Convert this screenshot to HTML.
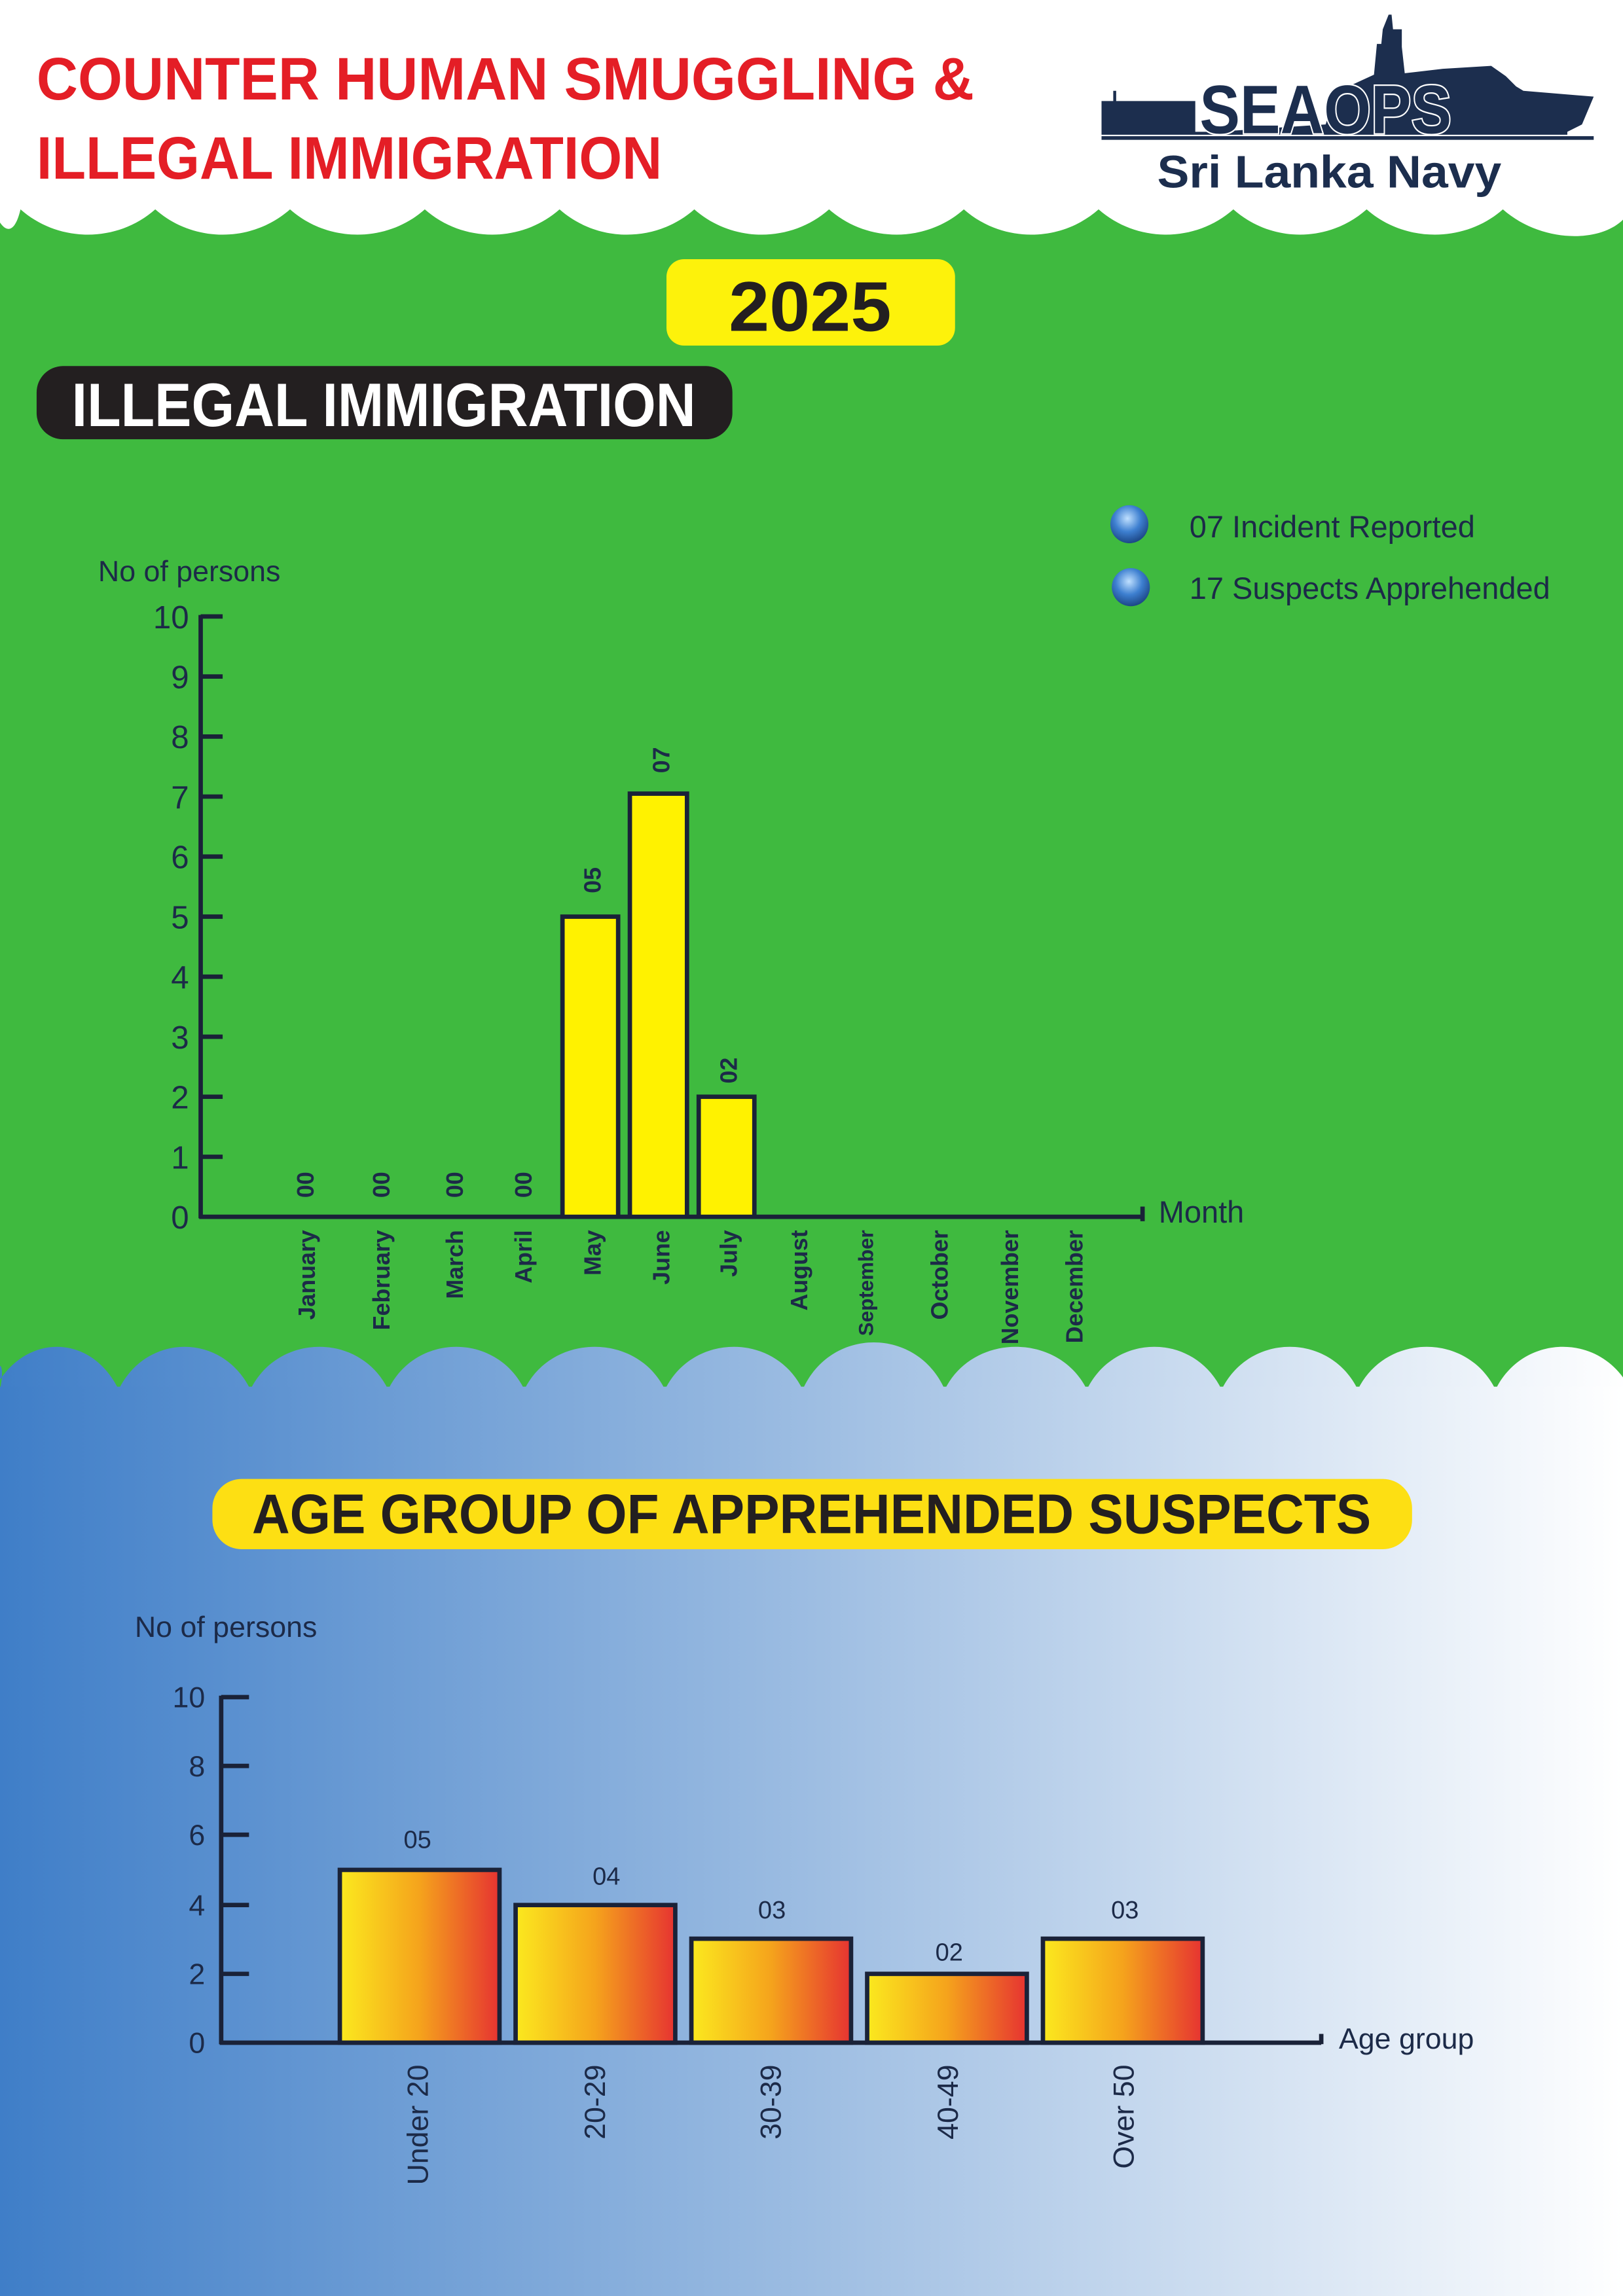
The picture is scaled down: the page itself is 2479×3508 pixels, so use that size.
<!DOCTYPE html>
<html><head><meta charset="utf-8"><style>html,body{margin:0;padding:0;background:#fff}svg{display:block}</style></head>
<body>
<svg xmlns="http://www.w3.org/2000/svg" width="2479" height="3508" viewBox="0 0 1108 1568" preserveAspectRatio="none" font-family="Liberation Sans, sans-serif">
<defs>
<linearGradient id="bg" x1="0" y1="0" x2="1" y2="0"><stop offset="0" stop-color="#3f7ec8"/><stop offset="0.5" stop-color="#9dbde2"/><stop offset="1" stop-color="#ffffff"/></linearGradient>
<linearGradient id="bar" x1="0" y1="0" x2="1" y2="0"><stop offset="0" stop-color="#fbe91e"/><stop offset="0.5" stop-color="#f5a31c"/><stop offset="1" stop-color="#e63331"/></linearGradient>
<radialGradient id="ball" cx="0.45" cy="0.35" r="0.7"><stop offset="0" stop-color="#bfe0ff"/><stop offset="0.5" stop-color="#3d7fd0"/><stop offset="1" stop-color="#173e7a"/></radialGradient>
</defs>
<rect width="1108" height="1568" fill="#fff"/>
<rect x="0" y="140" width="1108" height="820" fill="#3fba3f"/>
<path fill="#fff" d="M0,138 L0,152 C4,158 10,160 14,143 C40,166 80,166 106,143 C132,166 172,166 198,143 C224,166 264,166 290,143 C316,166 356,166 382,143 C408,166 448,166 474,143 C500,166 540,166 566,143 C592,166 632,166 658,143 C684,166 724,166 750,143 C776,166 816,166 842,143 C868,166 907,166 933,143 C959,166 1000,166 1026,143 C1052,166 1092,166 1108,150 L1108,138 Z"/>
<path fill="url(#bg)" d="M0,1568 L0,949 C4,930 -2,925 -4,949 C16,910 62,910 81,949 C100,910 152,910 171,949 C190,910 246,910 265,949 C284,910 339,910 358,949 C377,910 435,910 454,949 C473,910 529,910 548,949 C567,906 626,906 645,949 C664,910 723,910 742,949 C761,910 815,910 834,949 C853,910 908,910 927,949 C946,910 1002,910 1021,949 C1040,910 1094,910 1113,949 L1108,1568 Z"/>
<rect x="0" y="947" width="1108" height="621" fill="url(#bg)"/>

<text x="25" y="68" font-size="41" font-weight="bold" fill="#e41e26" textLength="640" lengthAdjust="spacingAndGlyphs">COUNTER HUMAN SMUGGLING  &amp;</text>
<text x="25" y="122" font-size="41" font-weight="bold" fill="#e41e26" textLength="427" lengthAdjust="spacingAndGlyphs">ILLEGAL IMMIGRATION</text>

<g fill="#1c2e4e">
<polygon points="752,69 760,69 760,62 762,62 762,69 816,69 816,90 830,90 905,85 912,63 925,57 938,51 940,30 943,30 944,20 948,10 950,10 951,20 957,20 957,32 959,50 985,47 1018,45 1028,52 1035,59 1040,62 1088,66 1080,85 1070,90 1070,92 752,92"/>
<rect x="752" y="93" width="336" height="2.5"/>
</g>
<text x="819" y="91" font-size="47" font-weight="bold" fill="#1c2e4e" stroke="#fff" stroke-width="2" paint-order="stroke" textLength="172" lengthAdjust="spacingAndGlyphs">SEAOPS</text>
<text x="790" y="128" font-size="31" font-weight="bold" fill="#1c2e4e" textLength="235" lengthAdjust="spacingAndGlyphs">Sri Lanka Navy</text>

<rect x="455" y="177" width="197" height="59" rx="12" fill="#fdf20b"/>
<text x="553" y="226" font-size="48" font-weight="bold" fill="#231f20" text-anchor="middle" textLength="111" lengthAdjust="spacingAndGlyphs">2025</text>
<rect x="25" y="250" width="475" height="50" rx="18" fill="#231f20"/>
<text x="49" y="291" font-size="42" font-weight="bold" fill="#fff" textLength="426" lengthAdjust="spacingAndGlyphs">ILLEGAL IMMIGRATION</text>

<circle cx="771" cy="358" r="13" fill="url(#ball)"/>
<circle cx="772" cy="401" r="13" fill="url(#ball)"/>
<g font-size="21" fill="#1c2a48">
<text x="812" y="367">07 Incident Reported</text>
<text x="812" y="409">17 Suspects Apprehended</text>
</g>

<text x="67" y="397" font-size="20" fill="#1c2a48">No of persons</text>
<g stroke="#1a2238" stroke-width="3" fill="none">
<line x1="137" y1="420" x2="137" y2="832"/>
<line x1="136" y1="831" x2="780" y2="831"/>
<line x1="780" y1="824" x2="780" y2="834"/>
<path d="M137,421h15M137,462h15M137,503h15M137,544h15M137,585h15M137,626h15M137,667h15M137,708h15M137,749h15M137,790h15"/>
</g>
<g font-size="22" fill="#1c2a48" text-anchor="end">
<text x="129" y="429">10</text><text x="129" y="470">9</text><text x="129" y="511">8</text><text x="129" y="552">7</text><text x="129" y="593">6</text><text x="129" y="634">5</text><text x="129" y="675">4</text><text x="129" y="716">3</text><text x="129" y="757">2</text><text x="129" y="798">1</text><text x="129" y="839">0</text>
</g>
<text x="791" y="835" font-size="21" fill="#1c2a48">Month</text>
<g fill="#fff200" stroke="#1a2238" stroke-width="3">
<rect x="384" y="626" width="38" height="205"/>
<rect x="430" y="542" width="39" height="289"/>
<rect x="477" y="749" width="38" height="82"/>
</g>
<g font-size="16" font-weight="bold" fill="#1c2a48">
<text transform="translate(214,818) rotate(-90)">00</text>
<text transform="translate(266,818) rotate(-90)">00</text>
<text transform="translate(316,818) rotate(-90)">00</text>
<text transform="translate(363,818) rotate(-90)">00</text>
<text transform="translate(410,610) rotate(-90)">05</text>
<text transform="translate(457,528) rotate(-90)">07</text>
<text transform="translate(503,740) rotate(-90)">02</text>
</g>
<g font-size="16" font-weight="bold" fill="#1c2a48" text-anchor="end">
<text transform="translate(215,840) rotate(-90)">January</text>
<text transform="translate(266,840) rotate(-90)">February</text>
<text transform="translate(316,840) rotate(-90)">March</text>
<text transform="translate(363,840) rotate(-90)">April</text>
<text transform="translate(410,840) rotate(-90)">May</text>
<text transform="translate(457,840) rotate(-90)">June</text>
<text transform="translate(503,840) rotate(-90)">July</text>
<text transform="translate(551,840) rotate(-90)">August</text>
<text transform="translate(596,840) rotate(-90)" font-size="14">September</text>
<text transform="translate(647,840) rotate(-90)">October</text>
<text transform="translate(695,840) rotate(-90)">November</text>
<text transform="translate(739,840) rotate(-90)">December</text>
</g>

<rect x="145" y="1010" width="819" height="48" rx="20" fill="#fddf13"/>
<text x="172" y="1047" font-size="38" font-weight="bold" fill="#231f20" textLength="764" lengthAdjust="spacingAndGlyphs">AGE GROUP OF APPREHENDED SUSPECTS</text>

<text x="92" y="1118" font-size="20" fill="#1c2a48">No of persons</text>
<g stroke="#1a2238" stroke-width="3" fill="none">
<line x1="151" y1="1158" x2="151" y2="1396"/>
<line x1="150" y1="1395" x2="902" y2="1395"/>
<line x1="902" y1="1389" x2="902" y2="1396"/>
<path d="M151,1159h19M151,1206h19M151,1253h19M151,1301h19M151,1348h19"/>
</g>
<g font-size="20" fill="#1c2a48" text-anchor="end">
<text x="140" y="1166">10</text><text x="140" y="1213">8</text><text x="140" y="1260">6</text><text x="140" y="1308">4</text><text x="140" y="1355">2</text><text x="140" y="1402">0</text>
</g>
<text x="914" y="1399" font-size="20" fill="#1c2a48">Age group</text>
<g fill="url(#bar)" stroke="#1a2238" stroke-width="3">
<rect x="232" y="1277" width="109" height="118"/>
<rect x="352" y="1301" width="109" height="94"/>
<rect x="472" y="1324" width="109" height="71"/>
<rect x="592" y="1348" width="109" height="47"/>
<rect x="712" y="1324" width="109" height="71"/>
</g>
<g font-size="17" fill="#1c2a48" text-anchor="middle">
<text x="285" y="1262">05</text><text x="414" y="1287">04</text><text x="527" y="1310">03</text><text x="648" y="1339">02</text><text x="768" y="1310">03</text>
</g>
<g font-size="20" fill="#1c2a48" text-anchor="end">
<text transform="translate(292,1410) rotate(-90)">Under 20</text>
<text transform="translate(413,1410) rotate(-90)">20-29</text>
<text transform="translate(533,1410) rotate(-90)">30-39</text>
<text transform="translate(654,1410) rotate(-90)">40-49</text>
<text transform="translate(774,1410) rotate(-90)">Over 50</text>
</g>
</svg>
</body></html>
